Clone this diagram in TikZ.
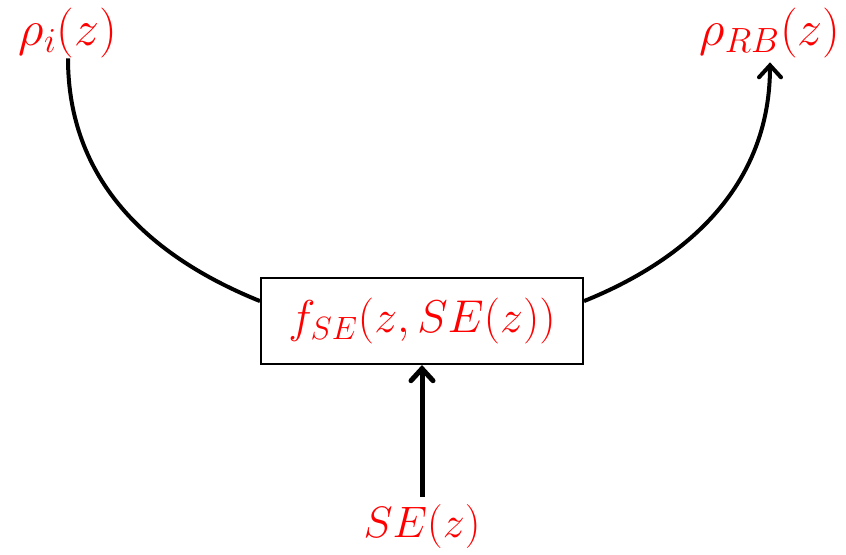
\documentclass[tikz,border=0pt]{standalone}
\usepackage{fix-cm}
\usetikzlibrary{arrows.meta}
\definecolor{labelc}{HTML}{FF0000}

\begin{document}
\begin{tikzpicture}[x=0.5pt, y=0.5pt, font=\fontsize{22}{26}\selectfont,
    lbl/.style={text=labelc, inner sep=0pt},
    tip/.style={-{Straight Barb[length=6pt, width=11pt, line cap=round]}}]
  \useasboundingbox (0,0) rectangle (846,555);
  % labels
  \node[lbl, font=\fontsize{25}{30}\selectfont] (rhoi) at (68,522) {$\rho_i(z)$};
  \node[lbl, font=\fontsize{25}{30}\selectfont] (rhorb) at (770,522) {$\rho_{RB}(z)$};
  \node[lbl] (se) at (422,28) {$SE(z)$};
  % mapping box
  \node[draw, line width=1pt, text=labelc, minimum width=161pt, minimum height=43pt,
    font=\fontsize{23}{28}\selectfont] (fse) at (422,234) {$f_{SE}\bigl(z,SE(z)\bigr)$};

  % arcs and input
  \draw[line width=2pt] (rhoi.south) to[out=-90, in=158] (fse.173);
  \draw[line width=2pt, tip] (fse.7) to[out=22, in=-90] ([yshift=-2pt]rhorb.south);
  \draw[line width=2.5pt, tip] ([yshift=4pt]se.north) -- (fse.south);
\end{tikzpicture}
\end{document}
